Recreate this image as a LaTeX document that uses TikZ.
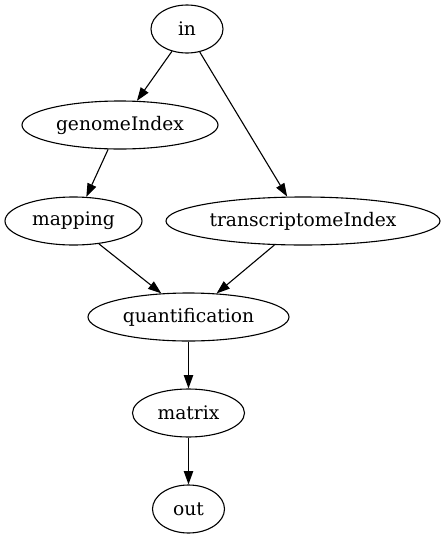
\documentclass[tikz,border=0pt]{standalone}
\usepackage{fontspec}
\setmainfont{DejaVu Serif}
\usetikzlibrary{shapes.geometric,arrows.meta}
\begin{document}
\begin{tikzpicture}[x=1pt,y=-1pt,
  nd/.style={draw,ellipse,inner sep=0pt,line width=1.1pt,font=\fontsize{18.67}{22}\selectfont},
  edge/.style={draw,line width=1.1pt,-{Triangle[length=13.3pt,width=9.3pt]}}]
\useasboundingbox (0,0) rectangle (445,539);
\node[nd,minimum width=72pt,minimum height=48pt] (in) at (187,29) {in};
\node[nd,minimum width=196pt,minimum height=48pt] (gi) at (120,125) {genomeIndex};
\node[nd,minimum width=137pt,minimum height=48pt] (map) at (73.5,221) {mapping};
\node[nd,minimum width=274pt,minimum height=48pt] (ti) at (303,221) {transcriptomeIndex};
\node[nd,minimum width=201pt,minimum height=48pt] (q) at (188.5,317) {quantification};
\node[nd,minimum width=112pt,minimum height=48pt] (mx) at (188.5,413) {matrix};
\node[nd,minimum width=72pt,minimum height=48pt] (out) at (188.5,509) {out};
\draw[edge] (in.236.9) -- (gi.55.8);
\draw[edge] (in.299.5) -- (ti.123.7);
\draw[edge] (gi.244.4) -- (map.62.5);
\draw[edge] (map.318.7) -- (q.139.6);
\draw[edge] (ti.220.6) -- (q.40.6);
\draw[edge] (q.south) -- (mx.north);
\draw[edge] (mx.south) -- (out.north);
\end{tikzpicture}
\end{document}
